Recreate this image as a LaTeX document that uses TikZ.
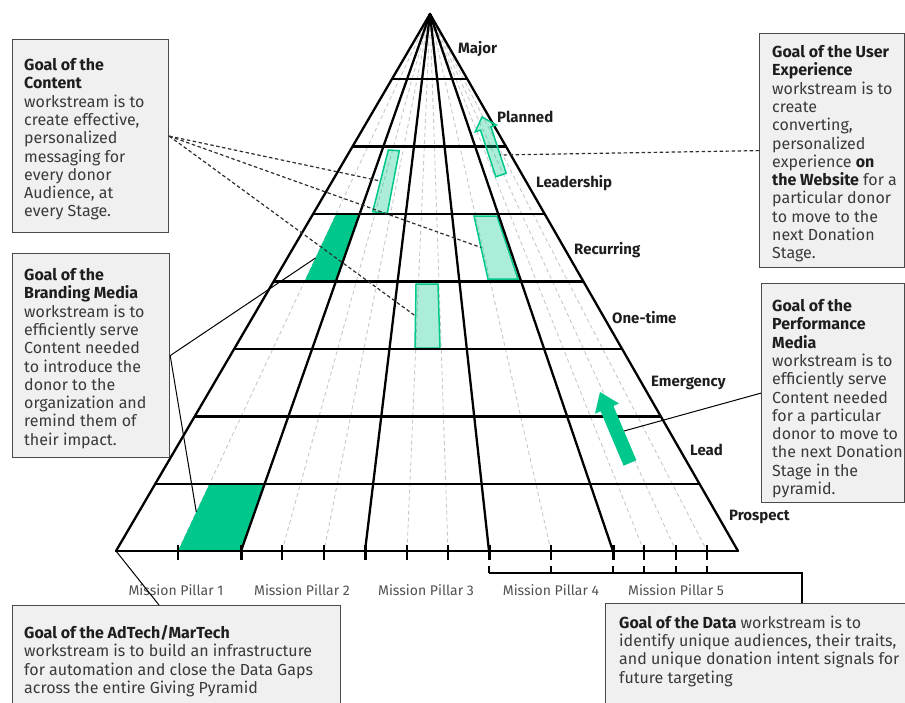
\documentclass[tikz,border=0pt]{standalone}
\usepackage{fontspec}
\setmainfont{Fira Sans}
\usetikzlibrary{calc}
\definecolor{grn}{HTML}{00C78C}
\definecolor{boxfill}{HTML}{F0F0F0}
\definecolor{boxline}{HTML}{4A4A4A}
\definecolor{txt}{HTML}{3A3A3A}
\definecolor{head}{HTML}{1E1E1E}
\definecolor{gridgray}{HTML}{C8C8C8}
\definecolor{pillargray}{HTML}{505050}
\definecolor{conn}{HTML}{2E2E2E}
\newcommand{\hd}[1]{\textbf{\textcolor{head}{#1}}}
\begin{document}
\begin{tikzpicture}[x=1pt,y=-1pt,
  goalbox/.style={draw=boxline, line width=1.2pt, fill=boxfill, anchor=north west, inner sep=0pt},
  goaltext/.style={anchor=north west, align=left, inner sep=0pt, text=txt,
    font=\fontsize{16}{18.3}\selectfont, execute at begin node=\strut},
  tier/.style={anchor=west, font=\bfseries\fontsize{15}{16}\selectfont, text=head, inner sep=0pt},
  pillarlbl/.style={font=\fontsize{14}{15}\selectfont, text=pillargray, inner sep=0pt},
  guide/.style={draw=gridgray, line width=0.9pt, dash pattern=on 4pt off 3pt},
  mainline/.style={draw=black, line width=2.3pt, line join=round, line cap=round},
  tierline/.style={draw=black, line width=2.9pt},
  darkshape/.style={fill=grn, draw=none},
  lightshape/.style={fill=grn, fill opacity=0.33, draw=grn, line width=1.5pt},
  dashconn/.style={draw=conn, line width=1.2pt, dash pattern=on 3.5pt off 2.5pt},
  solidconn/.style={draw=black, line width=1pt},
  thintick/.style={draw=black, line width=1.6pt},
  boldtick/.style={draw=black, line width=3pt}
]
\useasboundingbox (0,0) rectangle (905,702);
\clip (0,0) rectangle (905,702);

% ---------- pyramid geometry ----------
\coordinate (apex) at (430,14);
\foreach \n/\x in {0/116,1/178,2/241,3/282,4/324,5/365,6/407,7/448,8/489,9/551,10/613,11/644,12/676,13/707,14/738}
  \coordinate (b\n) at (\x,551);

% dashed guides
\foreach \n in {1,3,4,6,7,9,11,12,13}
  \draw[guide] (apex) -- (b\n);

% green fills
\path[darkshape] ($(apex)!0.8752!(b1)$) -- ($(apex)!0.8752!(b2)$) -- (b2) -- (b1) -- cycle;
\path[darkshape] ($(apex)!0.3724!(b1)$) -- ($(apex)!0.3724!(b2)$) -- ($(apex)!0.4981!(b2)$) -- ($(apex)!0.4981!(b1)$) -- cycle;
\path[lightshape] (388.3,150) -- (399.3,150.7) -- (387.3,213.3) -- (372.7,211.7) -- cycle;
\path[lightshape] (474,216) -- (497,216) -- (518,279) -- (488,279) -- cycle;
\path[lightshape] (416,284) -- (438,284) -- (440,348) -- (415,348) -- cycle;

% tier lines
\foreach \t in {0.1210,0.2467,0.3724,0.4981,0.6238,0.7495,0.8752}
  \draw[tierline] ($(apex)!\t!(b0)$) -- ($(apex)!\t!(b14)$);

% main slanted lines and outline
\draw[mainline] (b0) -- (apex) -- (b14);
\foreach \n in {2,5,8,10}
  \draw[mainline] (apex) -- (b\n);
\draw[mainline] (b0) -- (b14);

% ticks on base
\foreach \n in {1,3,4,6,7,9,11,12,13}
  \draw[thintick] ([yshift=6pt]b\n) -- ([yshift=-9pt]b\n);
\foreach \n in {2,5,8,10}
  \draw[boldtick] ([yshift=6pt]b\n) -- ([yshift=-9pt]b\n);

% arrows
\path[lightshape] (495.8,176.7) -- (480.5,130.1) -- (475.2,131.8) -- (482,117) -- (496.2,125.0) -- (490.9,126.7) -- (506.2,173.3) -- cycle;
\path[darkshape] (623.6,465.7) -- (600.6,411.3) -- (595,413.7) -- (600,392) -- (619,403.5) -- (613.4,405.9) -- (636.4,460.3) -- cycle;

% tier labels
\node[tier] (tMajor) at (458,49) {Major};
\node[tier] (tPlanned) at (497,117) {Planned};
\node[tier] (tLeadership) at (536,183) {Leadership};
\node[tier] (tRecurring) at (574,250) {Recurring};
\node[tier] (tOnetime) at (612,318) {One-time};
\node[tier] (tEmergency) at (651,383) {Emergency};
\node[tier] (tLead) at (690,450) {Lead};
\node[tier] (tProspect) at (729,517) {Prospect};

% pillar labels
\node[pillarlbl] (p1) at (176,590) {Mission Pillar 1};
\node[pillarlbl] (p2) at (302,590) {Mission Pillar 2};
\node[pillarlbl] (p3) at (426,590) {Mission Pillar 3};
\node[pillarlbl] (p4) at (551,590) {Mission Pillar 4};
\node[pillarlbl] (p5) at (676,590) {Mission Pillar 5};

% ---------- goal boxes ----------
\node[goalbox, minimum width=156pt, minimum height=193pt] (content) at (12,39) {};
\node[goaltext] (contentT) at (24,58.2) {\hd{Goal of the}\\\hd{Content}\\workstream is to\\create effective,\\personalized\\messaging for\\every donor\\Audience, at\\every Stage.};

\node[goalbox, minimum width=145pt, minimum height=234pt] (ux) at (759,33) {};
\node[goaltext] (uxT) at (772,45.2) {\hd{Goal of the User}\\\hd{Experience}\\workstream is to\\create\\converting,\\personalized\\experience \hd{on}\\\hd{the Website} for a\\particular donor\\to move to the\\next Donation\\Stage.};

\node[goalbox, minimum width=157pt, minimum height=204pt] (brand) at (12,253) {};
\node[goaltext] (brandT) at (24,268.2) {\hd{Goal of the}\\\hd{Branding Media}\\workstream is to\\efficiently serve\\Content needed\\to introduce the\\donor to the\\organization and\\remind them of\\their impact.};

\node[goalbox, minimum width=143pt, minimum height=219pt] (perf) at (761,283) {};
\node[goaltext] (perfT) at (772,299.2) {\hd{Goal of the}\\\hd{Performance}\\\hd{Media}\\workstream is to\\efficiently serve\\Content needed\\for a particular\\donor to move to\\the next Donation\\Stage in the\\pyramid.};

\node[goalbox, minimum width=328pt, minimum height=115pt] (adbox) at (12,605) {};
\node[goaltext] (adT) at (24,625.2) {\hd{Goal of the AdTech/MarTech}\\workstream is to build an infrastructure\\for automation and close the Data Gaps\\across the entire Giving Pyramid};

\node[goalbox, minimum width=315pt, minimum height=117pt] (databox) at (605,603) {};
\node[goaltext] (dataT) at (619,615.5) {\hd{Goal of the Data} workstream is to\\identify unique audiences, their traits,\\and unique donation intent signals for\\future targeting};

% ---------- connectors ----------
\coordinate (s3w) at (380.5,181);
\coordinate (s4w) at (481,247.5);
\coordinate (s5w) at (415.5,316);
\coordinate (s2w) at ($(apex)!0.4544!(b1)$);
\coordinate (s1w) at ($(apex)!0.9274!(b1)$);
\coordinate (a6e) at (500,155);
\coordinate (a7e) at (624,431);
\coordinate (br0) at (489,573);
\coordinate (br1) at (802,573);

\draw[dashconn] (content.east) -- (s3w);
\draw[dashconn] (content.east) -- (s4w);
\draw[dashconn] (content.east) -- (s5w);
\draw[dashconn] (ux.west) -- (a6e);
\draw[solidconn] (brand.east) -- (s2w);
\draw[solidconn] (brand.east) -- (s1w);
\draw[solidconn] (perf.west) -- (a7e);
\draw[solidconn] (b0) -- ([xshift=147pt]adbox.north west);
\draw[solidconn, line width=1.2pt] (br0) -- (br1) -- ([xshift=197pt]databox.north west);
\foreach \x in {489,551,613,644,676,707}
  \draw[solidconn, line width=1.2pt] (\x,566) -- (\x,573);
\end{tikzpicture}
\end{document}
